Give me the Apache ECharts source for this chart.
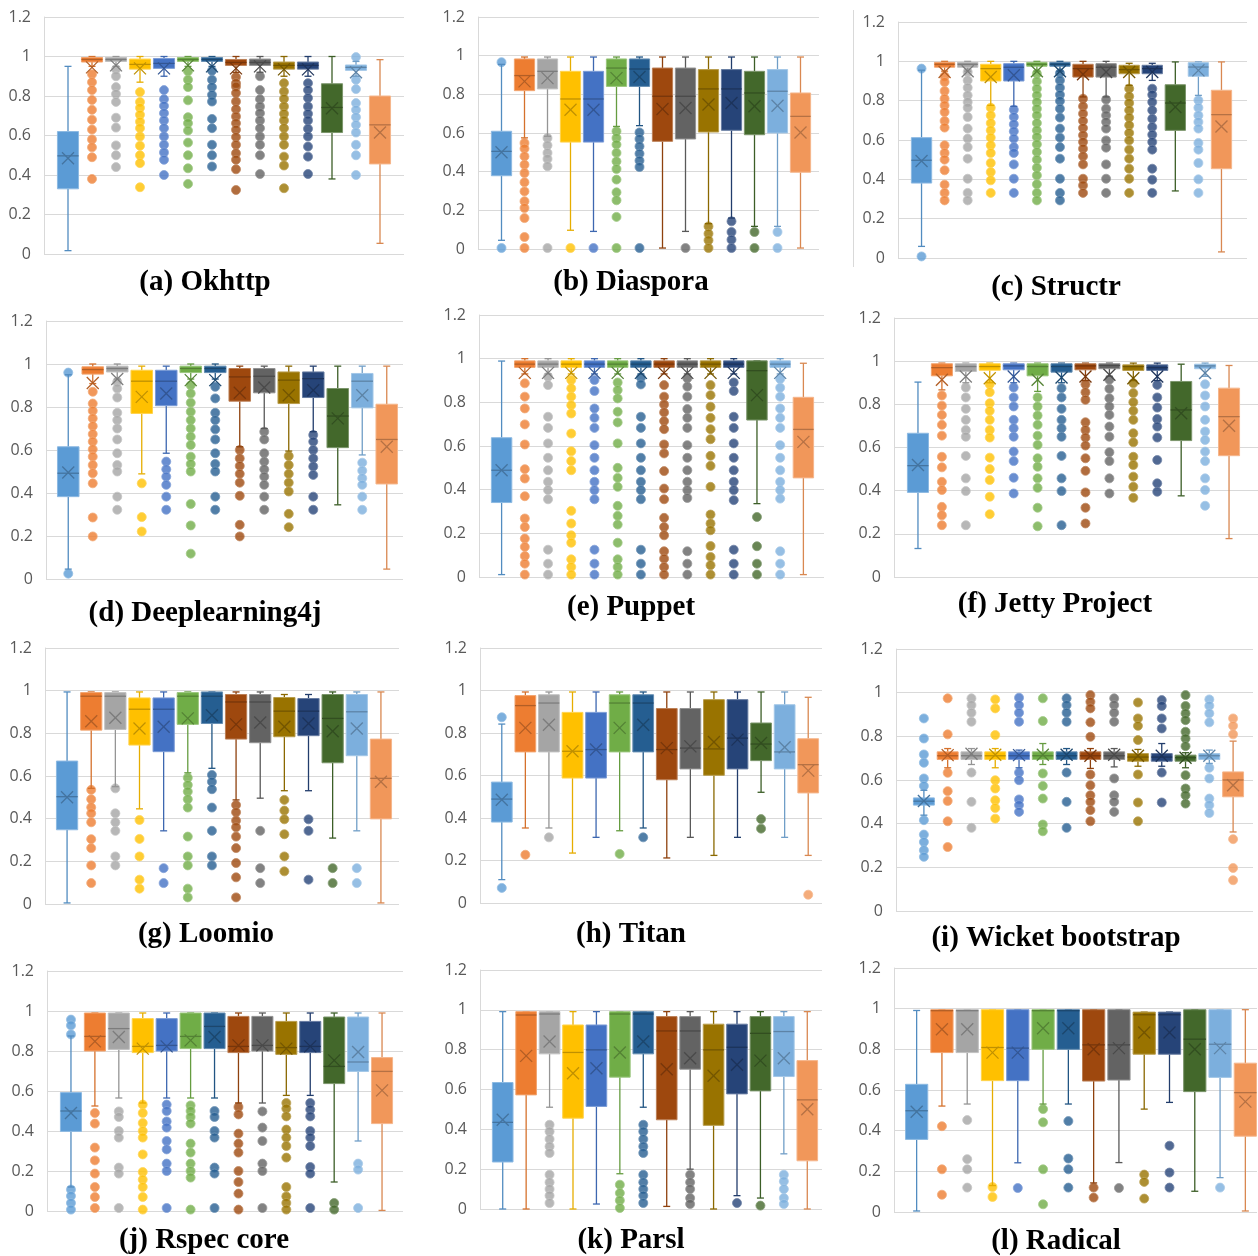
<!DOCTYPE html>
<html>
<head>
<meta charset="utf-8">
<script src="https://cdn.jsdelivr.net/npm/echarts@6/dist/echarts.min.js"></script>
<style>
  html, body { margin: 0; padding: 0; background: #fff; }
  #chart { width: 1258px; height: 1256px; }
</style>
</head>
<body>
<div id="chart"></div>
<script>
// Excel office palette: 6 accents, their darker shades, then 2 lighter ones
var colors = ['#5B9BD5', '#ED7D31', '#A5A5A5', '#FFC000', '#4472C4', '#70AD47',
              '#255E91', '#9E480E', '#636363', '#997300', '#264478', '#43682B',
              '#7CAFDD', '#F1975A'];
var yTickLabels = ['0', '0.2', '0.4', '0.6', '0.8', '1', '1.2'];
var titles = ['(a) Okhttp', '(b) Diaspora', '(c) Structr', '(d) Deeplearning4j',
              '(e) Puppet', '(f) Jetty Project', '(g) Loomio', '(h) Titan',
              '(i) Wicket bootstrap', '(j) Rspec core', '(k) Parsl', '(l) Radical'];

// each box: [lower whisker, q1, median, q3, upper whisker]
var okhttpBox = [[0.017,0.33,0.497,0.62,0.95],[0.95,0.972,0.985,0.995,1],[0.95,0.975,0.985,0.995,1],[0.87,0.936,0.96,0.987,1],
  [0.9,0.94,0.965,0.99,1],[0.95,0.975,0.985,0.995,1],[0.95,0.975,0.985,0.995,1],[0.92,0.955,0.97,0.985,1],[0.92,0.955,0.97,0.987,1],
  [0.9,0.936,0.955,0.972,1],[0.9,0.936,0.955,0.972,1],[0.38,0.615,0.742,0.862,1],[0.9,0.93,0.945,0.957,0.975],[0.054,0.456,0.654,0.8,0.984]];
var okhttpMean = [0.485,0.945,0.955,0.94,0.94,0.955,0.95,0.94,0.95,0.935,0.935,0.738,0.92,0.615];
var okhttpOut = [[],[0.91,0.87,0.83,0.78,0.73,0.68,0.63,0.58,0.54,0.49,0.38],[0.935,0.9,0.845,0.81,0.77,0.69,0.64,0.55,0.5,0.44],
  [0.82,0.77,0.74,0.705,0.67,0.637,0.595,0.548,0.5,0.46,0.338],[0.83,0.784,0.75,0.713,0.676,0.637,0.595,0.553,0.514,0.477,0.4],
  [0.925,0.882,0.845,0.778,0.693,0.662,0.625,0.564,0.5,0.434,0.355],[0.928,0.882,0.845,0.806,0.772,0.684,0.637,0.553,0.5,0.443],
  [0.896,0.865,0.848,0.815,0.772,0.733,0.696,0.662,0.629,0.592,0.553,0.51,0.477,0.429,0.324],[0.9,0.83,0.784,0.747,0.713,0.676,0.637,0.595,0.553,0.5,0.405],
  [0.865,0.823,0.786,0.747,0.71,0.676,0.637,0.595,0.553,0.493,0.448,0.333],[0.865,0.83,0.79,0.747,0.71,0.676,0.634,0.595,0.544,0.493,0.405],
  [],[0.997,0.882,0.835,0.764,0.73,0.693,0.654,0.615,0.553,0.5,0.4],[]];

var diasporaBox = [[0.045,0.379,0.505,0.609,0.955],[0.575,0.819,0.897,0.983,0.993],[0.583,0.828,0.919,0.983,0.993],[0.097,0.553,0.776,0.919,0.993],
  [0.091,0.553,0.776,0.919,0.993],[0.634,0.841,0.936,0.983,0.993],[0.638,0.841,0.931,0.983,0.993],[0.005,0.557,0.79,0.936,0.993],[0.091,0.569,0.79,0.936,0.993],
  [0.131,0.605,0.828,0.928,0.993],[0.16,0.614,0.828,0.928,0.993],[0.117,0.591,0.807,0.919,0.993],[0.117,0.6,0.816,0.928,0.993],[0.005,0.397,0.686,0.807,0.993]];
var diasporaMean = [0.5,0.867,0.884,0.72,0.72,0.884,0.89,0.724,0.729,0.747,0.755,0.738,0.741,0.603];
var diasporaOut = [[0.966,0.005],[0.548,0.519,0.479,0.436,0.393,0.345,0.298,0.247,0.212,0.16,0.062,0.005],[0.574,0.536,0.497,0.466,0.428,0.005],[0.005],
  [0.005],[0.609,0.574,0.54,0.497,0.453,0.414,0.359,0.293,0.252,0.166,0.005],[0.603,0.569,0.531,0.493,0.457,0.424,0.005],[],[0.005],
  [0.117,0.079,0.045,0.005],[0.143,0.088,0.048,0.005],[0.088,0.005],[0.088,0.005],[]];

var structrBox = [[0.059,0.381,0.497,0.612,0.955],[0.95,0.97,0.985,0.995,1],[0.95,0.97,0.985,0.995,1],[0.776,0.9,0.963,0.985,1],
  [0.771,0.9,0.97,0.988,1],[0.95,0.975,0.985,0.995,1],[0.95,0.975,0.985,0.995,1],[0.819,0.92,0.963,0.985,1],[0.819,0.92,0.97,0.988,1],
  [0.878,0.937,0.958,0.98,0.99],[0.903,0.937,0.963,0.98,0.99],[0.341,0.649,0.788,0.881,0.997],[0.827,0.924,0.971,0.993,0.997],[0.031,0.454,0.729,0.853,0.997]];
var structrMean = [0.493,0.946,0.95,0.92,0.929,0.95,0.95,0.934,0.946,0.946,0.946,0.768,0.954,0.669];
var structrOut = [[0.963,0.008],[0.924,0.895,0.849,0.81,0.776,0.742,0.697,0.663,0.573,0.534,0.5,0.446,0.373,0.331,0.293],
  [0.946,0.903,0.866,0.827,0.793,0.764,0.717,0.658,0.607,0.564,0.505,0.403,0.331,0.293],[0.764,0.725,0.686,0.649,0.612,0.573,0.534,0.483,0.437,0.395,0.331],
  [0.754,0.717,0.68,0.644,0.607,0.564,0.534,0.476,0.403,0.331],
  [0.937,0.898,0.861,0.827,0.793,0.759,0.725,0.686,0.649,0.615,0.578,0.539,0.5,0.459,0.42,0.375,0.331,0.293],
  [0.94,0.903,0.866,0.83,0.798,0.759,0.714,0.658,0.612,0.564,0.505,0.403,0.331,0.293],[0.81,0.771,0.734,0.697,0.661,0.624,0.59,0.556,0.517,0.476,0.403,0.369,0.331],
  [0.805,0.759,0.725,0.692,0.658,0.598,0.561,0.476,0.403,0.331],[0.861,0.822,0.788,0.751,0.714,0.675,0.636,0.598,0.551,0.505,0.454,0.403,0.331],
  [0.861,0.83,0.793,0.751,0.708,0.666,0.627,0.59,0.551,0.454,0.398,0.331],[],[0.802,0.764,0.725,0.692,0.658,0.585,0.551,0.483,0.4,0.331],[]];

var dl4jBox = [[0.046,0.383,0.492,0.615,0.95],[0.909,0.953,0.974,0.987,1],[0.93,0.963,0.979,0.99,1],[0.489,0.77,0.92,0.971,0.99],
  [0.585,0.806,0.92,0.971,0.99],[0.93,0.96,0.979,0.99,1],[0.93,0.96,0.979,0.99,1],[0.615,0.827,0.94,0.979,0.99],[0.7,0.866,0.943,0.979,0.99],
  [0.595,0.816,0.925,0.963,0.99],[0.685,0.844,0.932,0.963,0.99],[0.345,0.611,0.758,0.886,0.99],[0.577,0.796,0.92,0.956,0.99],[0.046,0.442,0.649,0.813,0.99]];
var dl4jMean = [0.495,0.912,0.93,0.847,0.863,0.925,0.925,0.866,0.891,0.855,0.878,0.747,0.855,0.615];
var dl4jOut = [[0.96,0.025],[0.871,0.816,0.782,0.747,0.711,0.674,0.639,0.603,0.569,0.53,0.492,0.445,0.286,0.198],
  [0.917,0.886,0.844,0.773,0.739,0.7,0.649,0.585,0.53,0.5,0.383,0.322],[0.445,0.288,0.221],[0.546,0.51,0.476,0.438,0.383,0.322],
  [0.901,0.863,0.82,0.778,0.739,0.7,0.662,0.623,0.569,0.535,0.5,0.349,0.249,0.118],[0.894,0.84,0.773,0.739,0.696,0.649,0.585,0.535,0.5,0.383,0.322],
  [0.6,0.561,0.526,0.489,0.448,0.387,0.252,0.198],[0.685,0.649,0.585,0.546,0.51,0.476,0.438,0.383,0.322],[0.572,0.53,0.489,0.448,0.407,0.303,0.241],
  [0.67,0.639,0.6,0.561,0.523,0.484,0.383,0.322],[],[0.541,0.504,0.469,0.438,0.383,0.322],[]];

var puppetBox = [[0.011,0.341,0.489,0.638,0.989],[0.93,0.96,0.975,0.99,1],[0.93,0.96,0.975,0.99,1],[0.93,0.96,0.975,0.99,1],
  [0.93,0.96,0.975,0.99,1],[0.93,0.96,0.975,0.99,1],[0.93,0.96,0.975,0.99,1],[0.93,0.96,0.975,0.99,1],[0.93,0.96,0.975,0.99,1],
  [0.93,0.96,0.975,0.99,1],[0.93,0.96,0.975,0.99,1],[0.336,0.719,0.945,0.99,0.99],[0.93,0.96,0.975,0.99,1],[0.011,0.454,0.676,0.823,0.979]];
var puppetMean = [0.489,0.935,0.935,0.935,0.935,0.935,0.935,0.935,0.935,0.935,0.935,0.833,0.935,0.619];
var puppetOut = [[],[0.887,0.826,0.772,0.699,0.607,0.494,0.451,0.37,0.268,0.229,0.176,0.138,0.096,0.061,0.011],
  [0.917,0.879,0.734,0.683,0.612,0.546,0.489,0.436,0.398,0.356,0.125,0.061,0.011],
  [0.902,0.864,0.826,0.787,0.749,0.657,0.576,0.531,0.489,0.303,0.245,0.191,0.157,0.081,0.046,0.011],
  [0.902,0.852,0.772,0.729,0.683,0.604,0.546,0.489,0.436,0.398,0.356,0.125,0.061,0.011],
  [0.891,0.856,0.818,0.757,0.708,0.612,0.5,0.454,0.413,0.326,0.28,0.24,0.157,0.081,0.046,0.011],
  [0.913,0.882,0.734,0.683,0.612,0.546,0.489,0.436,0.398,0.356,0.125,0.061,0.011],
  [0.879,0.826,0.79,0.754,0.714,0.677,0.607,0.566,0.485,0.405,0.356,0.271,0.229,0.191,0.118,0.084,0.046,0.011],
  [0.91,0.872,0.826,0.769,0.729,0.683,0.604,0.546,0.489,0.436,0.398,0.362,0.118,0.061,0.011],
  [0.879,0.833,0.78,0.729,0.677,0.631,0.555,0.509,0.413,0.286,0.245,0.214,0.142,0.092,0.054,0.011],
  [0.891,0.852,0.734,0.683,0.612,0.546,0.489,0.436,0.398,0.352,0.125,0.061,0.011],[0.275,0.141,0.061,0.011],
  [0.907,0.867,0.826,0.772,0.729,0.683,0.604,0.546,0.489,0.436,0.398,0.359,0.118,0.061,0.011],[]];

var jettyBox = [[0.132,0.392,0.516,0.666,0.903],[0.867,0.932,0.97,0.988,0.991],[0.9,0.952,0.975,0.988,0.991],[0.9,0.958,0.975,0.988,0.991],
  [0.9,0.96,0.978,0.988,0.991],[0.86,0.932,0.975,0.988,0.991],[0.9,0.949,0.975,0.988,0.991],[0.91,0.96,0.978,0.988,0.991],[0.93,0.965,0.98,0.988,0.991],
  [0.91,0.957,0.975,0.983,0.991],[0.91,0.957,0.97,0.983,0.991],[0.376,0.632,0.774,0.906,0.986],[0.93,0.965,0.978,0.986,0.991],[0.178,0.562,0.743,0.875,0.98]];
var jettyMean = [0.519,0.914,0.929,0.921,0.929,0.914,0.924,0.929,0.937,0.921,0.929,0.759,0.945,0.701];
var jettyOut = [[],[0.841,0.794,0.751,0.705,0.655,0.557,0.508,0.441,0.403,0.325,0.286,0.24],[0.878,0.832,0.779,0.728,0.681,0.65,0.561,0.457,0.398,0.24],
  [0.893,0.856,0.805,0.77,0.728,0.681,0.646,0.553,0.5,0.449,0.372,0.291],[0.878,0.832,0.79,0.728,0.689,0.65,0.581,0.537,0.46,0.387],
  [0.832,0.79,0.748,0.705,0.655,0.612,0.55,0.511,0.457,0.413,0.321,0.235],[0.875,0.832,0.779,0.728,0.689,0.65,0.561,0.457,0.398,0.24],
  [0.893,0.856,0.821,0.717,0.681,0.646,0.609,0.55,0.492,0.392,0.321,0.248],[0.914,0.872,0.828,0.79,0.751,0.697,0.65,0.578,0.537,0.457,0.387],
  [0.898,0.852,0.81,0.77,0.728,0.666,0.624,0.557,0.519,0.465,0.418,0.367],[0.89,0.832,0.785,0.732,0.697,0.646,0.542,0.434,0.395],
  [],[0.893,0.841,0.79,0.728,0.674,0.635,0.581,0.537,0.457,0.403,0.33],[]];

var loomioBox = [[0.005,0.348,0.503,0.67,0.994],[0.542,0.815,0.974,0.991,0.994],[0.55,0.818,0.974,0.991,0.994],[0.446,0.745,0.913,0.966,0.994],
  [0.343,0.714,0.913,0.966,0.994],[0.615,0.842,0.974,0.991,0.994],[0.636,0.846,0.974,0.994,0.994],[0.488,0.773,0.947,0.982,0.994],[0.496,0.756,0.947,0.982,0.994],
  [0.531,0.784,0.904,0.968,0.982],[0.531,0.789,0.904,0.963,0.982],[0.309,0.662,0.87,0.982,0.994],[0.343,0.695,0.901,0.982,0.994],[0.005,0.399,0.589,0.773,0.994]];
var loomioMean = [0.5,0.857,0.873,0.823,0.831,0.87,0.885,0.842,0.851,0.831,0.846,0.81,0.823,0.573];
var loomioOut = [[],[0.535,0.491,0.453,0.425,0.383,0.304,0.262,0.181,0.098],[0.542,0.425,0.383,0.343,0.223,0.181],[0.394,0.305,0.223,0.114,0.072],
  [0.168,0.098],[0.592,0.558,0.527,0.491,0.452,0.316,0.223,0.181,0.072,0.031],[0.605,0.573,0.538,0.452,0.343,0.223,0.181],
  [0.464,0.43,0.391,0.36,0.316,0.262,0.192,0.125,0.031],[0.343,0.168,0.098],[0.488,0.438,0.397,0.327,0.223,0.153],[0.397,0.343,0.114],
  [0.168,0.098],[0.168,0.098],[]];

var titanBox = [[0.11,0.381,0.489,0.569,0.842],[0.353,0.711,0.929,0.976,0.993],[0.353,0.711,0.941,0.98,0.993],[0.235,0.588,0.714,0.897,0.993],
  [0.309,0.588,0.722,0.897,0.993],[0.34,0.711,0.941,0.98,0.993],[0.353,0.711,0.941,0.98,0.993],[0.212,0.58,0.722,0.915,0.993],[0.309,0.631,0.729,0.915,0.993],
  [0.224,0.601,0.725,0.957,0.993],[0.309,0.631,0.776,0.957,0.993],[0.521,0.67,0.748,0.847,0.993],[0.309,0.631,0.711,0.933,0.993],[0.224,0.518,0.651,0.773,0.968]];
var titanMean = [0.486,0.824,0.839,0.714,0.722,0.824,0.839,0.729,0.737,0.758,0.769,0.753,0.733,0.623];
var titanOut = [[0.874,0.071],[0.227],[0.309],[],[],[0.231],[0.309],[],[],[],[],[0.395,0.35],[],[0.039]];

var wicketBox = [[0.439,0.485,0.503,0.518,0.553],[0.656,0.694,0.711,0.729,0.744],[0.671,0.694,0.711,0.729,0.744],[0.656,0.694,0.711,0.729,0.744],
  [0.656,0.694,0.711,0.729,0.737],[0.671,0.694,0.711,0.729,0.767],[0.671,0.694,0.711,0.729,0.744],[0.653,0.694,0.711,0.729,0.744],[0.66,0.694,0.711,0.729,0.744],
  [0.663,0.686,0.705,0.721,0.74],[0.663,0.686,0.705,0.721,0.767],[0.656,0.686,0.702,0.714,0.725],[0.676,0.694,0.711,0.721,0.737],[0.362,0.523,0.6,0.637,0.778]];
var wicketMean = [0.504,0.714,0.72,0.716,0.714,0.716,0.716,0.711,0.716,0.711,0.711,0.702,0.711,0.576];
var wicketOut = [[0.882,0.79,0.717,0.679,0.607,0.573,0.416,0.35,0.316,0.278,0.248],[0.974,0.809,0.633,0.549,0.504,0.411,0.293],
  [0.974,0.943,0.908,0.867,0.634,0.5,0.381],[0.969,0.928,0.806,0.599,0.561,0.507,0.472,0.423],[0.977,0.943,0.908,0.867,0.634,0.599,0.511,0.485,0.454],
  [0.974,0.87,0.63,0.573,0.515,0.396,0.365],[0.974,0.943,0.908,0.867,0.634,0.5,0.381],[0.989,0.958,0.928,0.864,0.798,0.625,0.576,0.53,0.5,0.462,0.411],
  [0.974,0.943,0.908,0.867,0.607,0.53,0.5,0.454],[0.955,0.882,0.848,0.783,0.625,0.497,0.411],[0.966,0.939,0.882,0.836,0.634,0.497],
  [0.989,0.939,0.905,0.874,0.821,0.79,0.755,0.622,0.561,0.53,0.492],[0.969,0.94,0.905,0.864,0.656,0.607,0.515,0.485,0.449],[0.882,0.848,0.809,0.329,0.197,0.141]];

var rspecBox = [[0.12,0.398,0.5,0.592,0.875],[0.525,0.8,0.873,0.99,0.99],[0.565,0.808,0.912,0.99,0.99],[0.54,0.792,0.823,0.962,0.99],
  [0.565,0.8,0.828,0.962,0.99],[0.565,0.812,0.873,0.99,0.99],[0.565,0.812,0.923,0.99,0.99],[0.54,0.792,0.823,0.973,0.99],[0.54,0.8,0.828,0.973,0.99],
  [0.578,0.783,0.817,0.948,0.99],[0.578,0.792,0.823,0.948,0.99],[0.145,0.637,0.723,0.97,0.99],[0.35,0.698,0.745,0.97,0.99],[0.003,0.437,0.698,0.767,0.99]];
var rspecMean = [0.49,0.848,0.87,0.812,0.823,0.853,0.87,0.828,0.828,0.812,0.823,0.753,0.795,0.603];
var rspecOut = [[0.957,0.928,0.883,0.107,0.075,0.04,0.007],[0.49,0.437,0.317,0.253,0.187,0.12,0.07,0.015],[0.498,0.47,0.4,0.367,0.217,0.187,0.015],
  [0.532,0.49,0.44,0.4,0.367,0.283,0.195,0.157,0.12,0.07,0.007],[0.532,0.5,0.448,0.417,0.35,0.308,0.237,0.2,0.015],
  [0.528,0.5,0.47,0.437,0.337,0.292,0.237,0.2,0.167,0.007],[0.5,0.47,0.4,0.367,0.217,0.187,0.015],[0.52,0.483,0.387,0.337,0.292,0.2,0.145,0.087,0.007],
  [0.498,0.417,0.35,0.237,0.2,0.015],[0.54,0.512,0.473,0.407,0.367,0.325,0.267,0.12,0.073,0.04,0.007],[0.54,0.507,0.473,0.4,0.367,0.325,0.22,0.187,0.015],
  [0.04,0.007],[0.237,0.207,0.015],[]];

var parslBox = [[0,0.236,0.435,0.635,0.991],[0,0.573,0.974,0.991,0.991],[0.511,0.779,0.979,0.991,0.991],[0,0.456,0.786,0.924,0.991],
  [0.025,0.515,0.799,0.924,0.991],[0.177,0.662,0.979,0.991,0.991],[0.511,0.779,0.979,0.991,0.991],[0.013,0.448,0.894,0.966,0.991],[0.2,0.702,0.894,0.966,0.991],
  [0,0.42,0.799,0.928,0.991],[0.067,0.578,0.812,0.928,0.991],[0.055,0.593,0.882,0.966,0.991],[0.277,0.665,0.891,0.966,0.991],[0,0.242,0.548,0.745,0.991]];
var parslMean = [0.448,0.769,0.841,0.682,0.707,0.786,0.841,0.702,0.757,0.669,0.724,0.745,0.757,0.501];
var parslOut = [[],[],[0.423,0.389,0.351,0.314,0.281,0.172,0.134,0.1,0.067,0.03],[],[],[0.122,0.08,0.043,0.005],
  [0.423,0.389,0.351,0.314,0.281,0.172,0.134,0.1,0.067,0.03],[],[0.172,0.134,0.1,0.055,0.025],[],[0.03],[0.017],[0.172,0.139,0.1,0.055,0.025],[]];

var radicalBox = [[0.005,0.357,0.498,0.628,0.991],[0.521,0.784,0.99,0.995,0.995],[0.531,0.784,0.99,0.995,0.995],[0.13,0.646,0.809,0.995,0.995],
  [0.242,0.646,0.806,0.995,0.995],[0.531,0.8,0.99,0.995,0.995],[0.531,0.8,0.99,0.995,0.995],[0.143,0.644,0.822,0.995,0.995],[0.243,0.649,0.822,0.995,0.995],
  [0.506,0.776,0.97,0.983,0.983],[0.539,0.776,0.97,0.983,0.983],[0.102,0.592,0.85,0.995,0.995],[0.169,0.662,0.825,0.995,0.995],[0.005,0.373,0.587,0.732,0.995]];
var radicalMean = [0.493,0.899,0.899,0.784,0.784,0.904,0.904,0.8,0.806,0.883,0.883,0.8,0.806,0.543];
var radicalOut = [[],[0.422,0.21,0.085],[0.452,0.26,0.21,0.12],[0.123,0.074],[0.118],[0.506,0.441,0.21,0.038],[0.447,0.263,0.21,0.12],
  [0.12,0.071],[0.118],[0.184,0.148,0.066],[0.326,0.194,0.12],[],[0.12],[]];

var panels = [
  [okhttpBox, okhttpMean, okhttpOut], [diasporaBox, diasporaMean, diasporaOut], [structrBox, structrMean, structrOut],
  [dl4jBox, dl4jMean, dl4jOut], [puppetBox, puppetMean, puppetOut], [jettyBox, jettyMean, jettyOut],
  [loomioBox, loomioMean, loomioOut], [titanBox, titanMean, titanOut], [wicketBox, wicketMean, wicketOut],
  [rspecBox, rspecMean, rspecOut], [parslBox, parslMean, parslOut], [radicalBox, radicalMean, radicalOut]
];

// plot left, top, right, bottom, box band left, box band right, title x, title y
var layout = [
  [44, 17, 404, 254, 56, 392, 205, 283],
  [478, 17, 819, 249, 490, 812, 631, 283],
  [898, 22, 1247, 258, 910, 1233, 1056, 288],
  [46, 321, 403, 579, 56, 399, 205, 614],
  [479, 315, 824, 577, 490, 815, 631, 608],
  [894, 318, 1258, 577, 906, 1241, 1055, 605],
  [45, 648, 399, 904, 55, 393, 206, 935],
  [480, 648, 822, 903, 490, 820, 631, 935],
  [896, 649, 1253, 911, 912, 1245, 1056, 939],
  [47, 971, 403, 1211, 59, 394, 204, 1241],
  [480, 970, 822, 1209, 491, 819, 631, 1241],
  [894, 968, 1257, 1212, 904, 1258, 1056, 1242]
];

function shade(hex, amt) {
  var n = parseInt(hex.slice(1), 16);
  var rgb = [n >> 16, (n >> 8) & 255, n & 255].map(function (c) {
    return Math.round(amt >= 0 ? c + (255 - c) * amt : c * (1 + amt));
  });
  return 'rgb(' + rgb.join(',') + ')';
}

function renderBox(params, api) {
  var j = api.value(0);
  var col = colors[j];
  var pMin = api.coord([j, api.value(1)]);
  var pQ1 = api.coord([j, api.value(2)]);
  var pMed = api.coord([j, api.value(3)]);
  var pQ3 = api.coord([j, api.value(4)]);
  var pMax = api.coord([j, api.value(5)]);
  var pMean = api.coord([j, api.value(6)]);
  var half = api.size([1, 0])[0] * 0.44;
  var cx = pMin[0];
  var cap = 3.5, m = 6;
  var whisk = { stroke: shade(col, -0.1), lineWidth: 1.3 };
  var inner = { stroke: shade(col, -0.25), lineWidth: 1.3 };
  return {
    type: 'group',
    children: [
      { type: 'line', shape: { x1: cx, y1: pQ3[1], x2: cx, y2: pMax[1] }, style: whisk },
      { type: 'line', shape: { x1: cx - cap, y1: pMax[1], x2: cx + cap, y2: pMax[1] }, style: whisk },
      { type: 'line', shape: { x1: cx, y1: pQ1[1], x2: cx, y2: pMin[1] }, style: whisk },
      { type: 'line', shape: { x1: cx - cap, y1: pMin[1], x2: cx + cap, y2: pMin[1] }, style: whisk },
      { type: 'rect', shape: { x: cx - half, y: pQ3[1], width: 2 * half, height: Math.max(pQ1[1] - pQ3[1], 1) },
        style: { fill: col, stroke: shade(col, 0.3), lineWidth: 1 } },
      { type: 'line', shape: { x1: cx - half, y1: pMed[1], x2: cx + half, y2: pMed[1] }, style: inner },
      { type: 'line', shape: { x1: cx - m, y1: pMean[1] - m, x2: cx + m, y2: pMean[1] + m }, style: inner },
      { type: 'line', shape: { x1: cx - m, y1: pMean[1] + m, x2: cx + m, y2: pMean[1] - m }, style: inner }
    ]
  };
}

var grids = [], xAxes = [], yAxes = [], series = [], graphics = [];
var cats = colors.map(function (c, i) { return String(i); });

panels.forEach(function (p, k) {
  var L = layout[k];
  var boxes = p[0], means = p[1], outs = p[2];
  // background grid: gridlines and tick labels
  grids.push({ left: L[0], top: L[1], width: L[2] - L[0], height: L[3] - L[1], outerBoundsMode: 'none' });
  xAxes.push({ gridIndex: 2 * k, type: 'category', data: [''], show: false });
  yAxes.push({
    gridIndex: 2 * k, type: 'value', min: 0, max: 1.2, interval: 0.2,
    axisLine: { show: true, lineStyle: { color: '#d9d9d9' } },
    axisTick: { show: false },
    splitLine: { lineStyle: { color: '#d9d9d9', width: 1 } },
    axisLabel: {
      margin: 13, color: '#595959', fontSize: 16, fontFamily: 'Open Sans',
      formatter: function (v) { return yTickLabels[Math.round(v / 0.2)]; }
    }
  });
  // box grid: the 14 boxes sit inside the plot with a margin on both sides
  grids.push({ left: L[4], top: L[1], width: L[5] - L[4], height: L[3] - L[1], outerBoundsMode: 'none' });
  xAxes.push({ gridIndex: 2 * k + 1, type: 'category', data: cats, boundaryGap: true, show: false });
  yAxes.push({ gridIndex: 2 * k + 1, type: 'value', min: 0, max: 1.2, show: false });

  var outData = [];
  outs.forEach(function (list, j) {
    list.forEach(function (v) {
      outData.push({ value: [j, v], itemStyle: { color: colors[j], borderColor: shade(colors[j], 0.35), borderWidth: 1 } });
    });
  });
  series.push({
    type: 'scatter', xAxisIndex: 2 * k + 1, yAxisIndex: 2 * k + 1,
    symbol: 'circle', symbolSize: 9, data: outData, z: 2, silent: true
  });
  series.push({
    type: 'custom', xAxisIndex: 2 * k + 1, yAxisIndex: 2 * k + 1,
    renderItem: renderBox, z: 3, silent: true,
    encode: { x: 0, y: [1, 2, 3, 4, 5, 6] },
    data: boxes.map(function (b, j) { return [j, b[0], b[1], b[2], b[3], b[4], means[j]]; })
  });

  graphics.push({
    type: 'text', x: L[6], y: L[7],
    style: { text: titles[k], fontFamily: 'Liberation Serif', fontSize: 29, fontWeight: 'bold',
             fill: '#000', align: 'center', verticalAlign: 'middle' }
  });
});

// thin border left of panel (c)
graphics.push({ type: 'line', shape: { x1: 853.5, y1: 10, x2: 853.5, y2: 267 }, style: { stroke: '#d9d9d9', lineWidth: 1 } });

var chart = echarts.init(document.getElementById('chart'));
chart.setOption({
  backgroundColor: '#ffffff',
  animation: false,
  grid: grids,
  xAxis: xAxes,
  yAxis: yAxes,
  series: series,
  graphic: graphics
});
</script>
</body>
</html>
